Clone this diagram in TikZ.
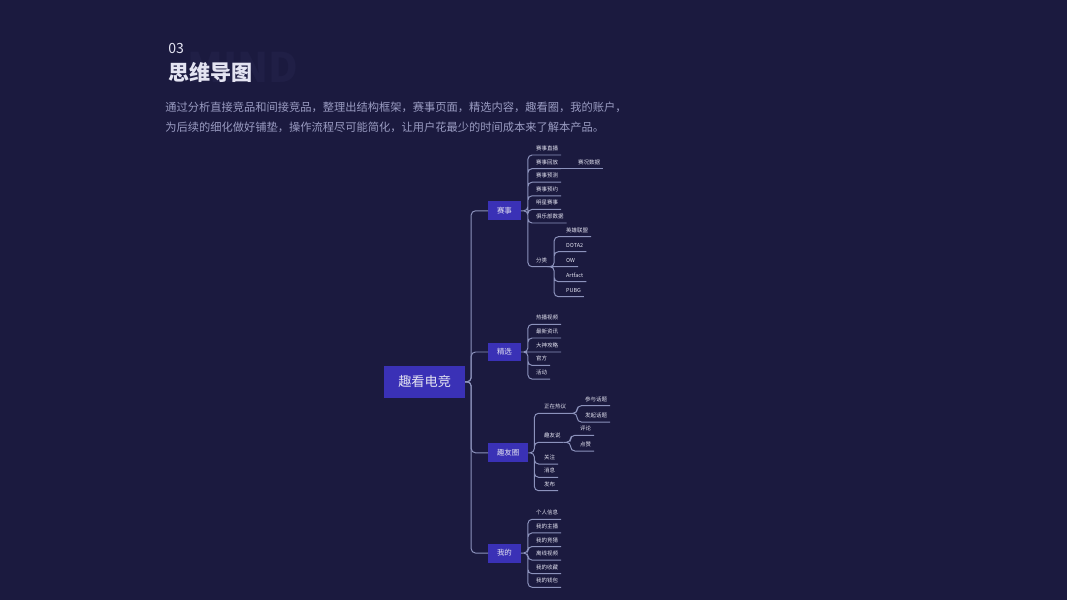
\documentclass[tikz,border=0pt]{standalone}
\usepackage{fontspec}
\setmainfont{Noto Sans CJK SC}
\usepackage{xcolor}
\usepackage{tikz}

\definecolor{nen}{HTML}{1B1A3F}
\definecolor{hop}{HTML}{3A31B6}
\definecolor{duong}{HTML}{8C92BC}
\definecolor{chu}{HTML}{E4E4F2}
\definecolor{mota}{HTML}{9A9CC2}
\definecolor{chim}{HTML}{201F46}

\tikzset{
	goc/.style={fill=hop, text=chu, font=\fontsize{9.4pt}{11pt}\selectfont, minimum width=57.2pt, minimum height=22.5pt, inner sep=0pt},
	nhanh/.style={fill=hop, text=chu, font=\fontsize{5.3pt}{6pt}\selectfont, anchor=west, minimum height=13.5pt, inner xsep=6.2pt, inner ysep=0pt},
	la/.style={anchor=south west, text=chu, font=\fontsize{3.9pt}{4.5pt}\selectfont, inner xsep=2pt, inner ysep=2.4pt, text height=3.2pt, text depth=0.6pt},
	noi/.style={draw=duong, line width=0.7pt, rounded corners=3pt},
}

\begin{document}
\begin{tikzpicture}[x=0.025cm, y=-0.025cm]
			% Nền
			\fill[nen] (0,0) rectangle (1067,600);
			% Tiêu đề
			\node[text=chim, font=\fontsize{29pt}{30pt}\selectfont\bfseries, inner sep=0pt] (chimnen) at (243,67) {MIND};
			\node[anchor=west, text=chu, font=\fontsize{10pt}{12pt}\selectfont, inner sep=0pt] (so) at (168,48) {03};
			\node[anchor=west, text=chu, font=\fontsize{15pt}{18pt}\selectfont\bfseries, inner sep=0pt] (tieude) at (168,72) {思维导图};
			\node[anchor=west, text=mota, font=\fontsize{8pt}{10pt}\selectfont, inner sep=0pt] (mota1) at (165,107) {通过分析直接竞品和间接竞品，整理出结构框架，赛事页面，精选内容，趣看圈，我的账户，};
			\node[anchor=west, text=mota, font=\fontsize{8pt}{10pt}\selectfont, inner sep=0pt] (mota2) at (165,127) {为后续的细化做好铺垫，操作流程尽可能简化，让用户花最少的时间成本来了解本产品。};
			% Gốc và nhánh
			\node[goc] (goc) at (424.7,381.8) {趣看电竞};
			\node[nhanh] (saishi) at (488,210.8) {赛事};
			\node[nhanh] (jingxuan) at (488,352) {精选};
			\node[nhanh] (quyou) at (488,452.8) {趣友圈};
			\node[nhanh] (wode) at (488,553) {我的};
			\draw[noi] (goc.east) -- ++(6,0) |- (saishi.west);
			\draw[noi] (goc.east) -- ++(6,0) |- (jingxuan.west);
			\draw[noi] (goc.east) -- ++(6,0) |- (quyou.west);
			\draw[noi] (goc.east) -- ++(6,0) |- (wode.west);
			% 赛事
			\node[la] (zhibo) at (533,155) {赛事直播};
			\node[la] (huifang) at (533,168.6) {赛事回放};
			\node[la] (yuce) at (533,182.2) {赛事预测};
			\node[la] (yuyue) at (533,195.8) {赛事预约};
			\node[la] (mingxing) at (533,209.4) {明星赛事};
			\node[la] (julebu) at (533,223) {俱乐部数据};
			\node[la] (fenlei) at (533,266.7) {分类};
			\node[la] (saikuang) at (575,168.6) {赛况数据};
			\node[la] (lol) at (563,236.7) {英雄联盟};
			\node[la] (dota) at (563,251.7) {DOTA2};
			\node[la] (ow) at (563,266.7) {OW};
			\node[la] (artfact) at (563,281.7) {Artfact};
			\node[la] (pubg) at (563,296.7) {PUBG};
			\draw[noi] (saishi.east) -- ++(7,0) |- (zhibo.south east)
				(saishi.east) -- ++(7,0) |- (huifang.south east)
				(saishi.east) -- ++(7,0) |- (yuce.south east)
				(saishi.east) -- ++(7,0) |- (yuyue.south east)
				(saishi.east) -- ++(7,0) |- (mingxing.south east)
				(saishi.east) -- ++(7,0) |- (julebu.south east)
				(saishi.east) -- ++(7,0) |- (fenlei.south east);
			\draw[noi] (huifang.south east) -- (saikuang.south east);
			\draw[noi] (fenlei.south east) -- ++(4,0) |- (lol.south east)
				(fenlei.south east) -- ++(4,0) |- (dota.south east)
				(fenlei.south east) -- (ow.south east)
				(fenlei.south east) -- ++(4,0) |- (artfact.south east)
				(fenlei.south east) -- ++(4,0) |- (pubg.south east);
			% 精选
			\node[la] (rebo) at (533,324.3) {热播视频};
			\node[la] (zixun) at (533,338) {最新资讯};
			\node[la] (gonglue) at (533,352) {大神攻略};
			\node[la] (guanfang) at (533,365.4) {官方};
			\node[la] (huodong) at (533,379.1) {活动};
			\draw[noi] (jingxuan.east) -- ++(7,0) |- (rebo.south east)
				(jingxuan.east) -- ++(7,0) |- (zixun.south east)
				(jingxuan.east) -- (gonglue.south east)
				(jingxuan.east) -- ++(7,0) |- (guanfang.south east)
				(jingxuan.east) -- ++(7,0) |- (huodong.south east);
			% 趣友圈
			\node[la] (reyi) at (541,413.3) {正在热议};
			\node[la] (canyu) at (582,405.7) {参与话题};
			\node[la] (faqi) at (582,422) {发起话题};
			\node[la] (shuo) at (541,442.3) {趣友说};
			\node[la] (pinglun) at (577,435.3) {评论};
			\node[la] (dianzan) at (577,451) {点赞};
			\node[la] (guanzhu) at (541,464) {关注};
			\node[la] (xiaoxi) at (541,477.3) {消息};
			\node[la] (fabu) at (541,490.7) {发布};
			\draw[noi] (quyou.east) -- ++(6,0) |- (reyi.south east)
				(quyou.east) -- ++(6,0) |- (shuo.south east)
				(quyou.east) -- ++(6,0) |- (guanzhu.south east)
				(quyou.east) -- ++(6,0) |- (xiaoxi.south east)
				(quyou.east) -- ++(6,0) |- (fabu.south east);
			\draw[noi] (reyi.south east) -- ++(8,0) |- (canyu.south east)
				(reyi.south east) -- ++(8,0) |- (faqi.south east);
			\draw[noi] (shuo.south east) -- ++(7,0) |- (pinglun.south east)
				(shuo.south east) -- ++(7,0) |- (dianzan.south east);
			% 我的
			\node[la] (xinxi) at (533,519.3) {个人信息};
			\node[la] (zhubo) at (533,532.9) {我的主播};
			\node[la] (jingcai) at (533,546.5) {我的竞猜};
			\node[la] (lixian) at (533,560.1) {离线视频};
			\node[la] (shoucang) at (533,573.7) {我的收藏};
			\node[la] (qianbao) at (533,587.3) {我的钱包};
			\draw[noi] (wode.east) -- ++(7,0) |- (xinxi.south east)
				(wode.east) -- ++(7,0) |- (zhubo.south east)
				(wode.east) -- ++(7,0) |- (jingcai.south east)
				(wode.east) -- ++(7,0) |- (lixian.south east)
				(wode.east) -- ++(7,0) |- (shoucang.south east)
				(wode.east) -- ++(7,0) |- (qianbao.south east);
		\end{tikzpicture}
\end{document}
